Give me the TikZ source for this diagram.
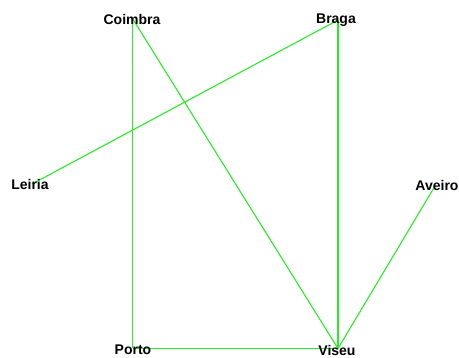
\documentclass[tikz,border=0pt]{standalone}
\usepackage{fontspec}
\setmainfont{Liberation Sans}
\begin{document}
\begin{tikzpicture}[x=1pt,y=-1pt,
  edge/.style={draw={rgb,255:red,40;green,235;blue,40},line width=1.1pt},
  city/.style={font=\bfseries\fontsize{14}{15}\selectfont,inner sep=0pt,text=black}]
\useasboundingbox (0,0) rectangle (459,358);
\coordinate (c) at (132.8,19);
\coordinate (b) at (338,20);
\coordinate (l) at (32,184);
\coordinate (a) at (435,186);
\coordinate (p) at (132.8,348.5);
\coordinate (v) at (338,348.5);
\draw[edge] (c) -- (p);
\draw[edge] (c) -- (v);
\draw[edge] (b) -- (l);
\draw[edge] (b) -- (v);
\draw[edge] (a) -- (v);
\draw[edge] (p) -- (v);
\node[city] (nc) at (132,19) {Coimbra};
\node[city] (nb) at (336,20) {Braga};
\node[city] (nl) at (30,184) {Leiria};
\node[city] (na) at (437,185) {Aveiro};
\node[city] (np) at (133,350) {Porto};
\node[city] (nv) at (337,350) {Viseu};
\end{tikzpicture}
\end{document}
